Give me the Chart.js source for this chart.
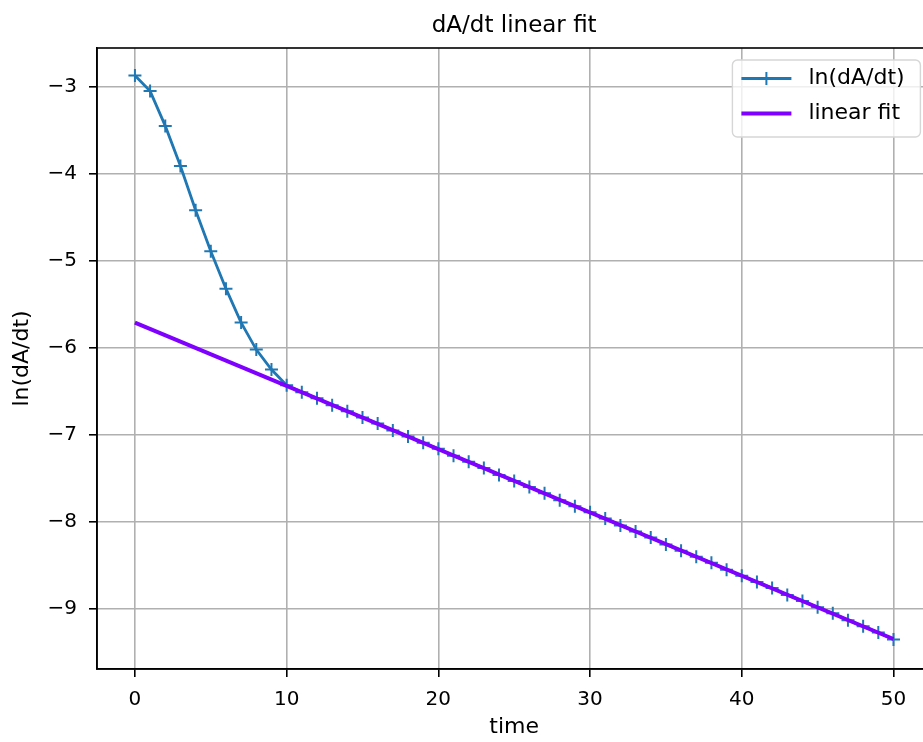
<!DOCTYPE html>
<html><head><meta charset="utf-8">
<script src="https://cdn.jsdelivr.net/npm/chart.js@4/dist/chart.umd.min.js"></script>
<style>html,body{margin:0;padding:0;background:#fff;overflow:hidden;} #wrap{width:960px;height:742px;}</style>
</head><body><div id="wrap"><canvas id="c" width="960" height="742"></canvas></div>
<script>
const timeValues = [0,1,2,3,4,5,6,7,8,9,10,11,12,13,14,15,16,17,18,19,20,21,22,23,24,25,26,27,28,29,30,31,32,33,34,35,36,37,38,39,40,41,42,43,44,45,46,47,48,49,50];
const lnValues = [-2.87,-3.05,-3.45,-3.91,-4.42,-4.89,-5.32,-5.71,-6.02,-6.25,-6.43,
  -6.51,-6.58,-6.66,-6.73,-6.80,-6.87,-6.95,-7.02,-7.09,-7.16,
  -7.24,-7.31,-7.38,-7.46,-7.53,-7.60,-7.67,-7.75,-7.82,-7.89,
  -7.96,-8.04,-8.11,-8.18,-8.26,-8.33,-8.40,-8.47,-8.55,-8.62,
  -8.69,-8.76,-8.84,-8.91,-8.98,-9.05,-9.13,-9.20,-9.27,-9.35];
const fitX = [0, 50];
const fitY = [-5.71, -9.345];
const xTicks = [0, 10, 20, 30, 40, 50];
const yTicks = [-3, -4, -5, -6, -7, -8, -9];
const titleText = 'dA/dt linear fit';
const xLabel = 'time';
const yLabel = 'ln(dA/dt)';
const seriesLabels = ['ln(dA/dt)', 'linear fit'];
const colors = ['#1f77b4', '#7f00ff'];

const FONT = 'DejaVu Sans';
Chart.defaults.color = '#000';
Chart.defaults.font.family = FONT;

const frame = {
  id: 'frame',
  afterDatasetsDraw(chart) {
    const {ctx, chartArea: a} = chart;
    ctx.save();
    ctx.strokeStyle = '#000';
    ctx.lineWidth = 1.6;
    ctx.strokeRect(a.left, a.top, a.right - a.left, a.bottom - a.top);
    ctx.restore();
  }
};

const mplLegend = {
  id: 'mplLegend',
  afterDraw(chart) {
    const {ctx, chartArea: a} = chart;
    const w = 188, h = 77;
    const x0 = a.right - 11 - w, y0 = a.top + 12;
    ctx.save();
    ctx.beginPath();
    ctx.roundRect(x0, y0, w, h, 5);
    ctx.fillStyle = 'rgba(255,255,255,0.8)';
    ctx.fill();
    ctx.strokeStyle = '#d6d6d6';
    ctx.lineWidth = 1.4;
    ctx.stroke();
    const rows = [y0 + 18.5, y0 + 53.5];
    chart.data.datasets.forEach((ds, i) => {
      const y = rows[i];
      ctx.beginPath();
      ctx.moveTo(x0 + 9, y);
      ctx.lineTo(x0 + 59, y);
      ctx.strokeStyle = ds.borderColor;
      ctx.lineWidth = ds.borderWidth;
      ctx.stroke();
      if (ds.pointRadius > 0) {
        const cx = x0 + 34, r = ds.pointRadius;
        ctx.beginPath();
        ctx.moveTo(cx - r, y); ctx.lineTo(cx + r, y);
        ctx.moveTo(cx, y - r); ctx.lineTo(cx, y + r);
        ctx.lineWidth = ds.pointBorderWidth;
        ctx.stroke();
      }
      ctx.fillStyle = '#000';
      ctx.font = '22px "' + FONT + '"';
      ctx.textBaseline = 'middle';
      ctx.textAlign = 'left';
      ctx.fillText(ds.label, x0 + 76, y);
    });
    ctx.restore();
  }
};

const fmt = v => String(v).replace('-', '\u2212');

new Chart(document.getElementById('c'), {
  type: 'line',
  data: {
    datasets: [
      {
        label: seriesLabels[0],
        data: timeValues.map((t, i) => ({x: t, y: lnValues[i]})),
        borderColor: colors[0],
        backgroundColor: colors[0],
        borderWidth: 2.8,
        pointStyle: 'cross',
        pointRadius: 6.5,
        pointBorderWidth: 2,
        pointBorderColor: colors[0],
        pointHoverRadius: 6.5,
        tension: 0,
        order: 1
      },
      {
        label: seriesLabels[1],
        data: fitX.map((t, i) => ({x: t, y: fitY[i]})),
        borderColor: colors[1],
        backgroundColor: colors[1],
        borderWidth: 4,
        pointRadius: 0,
        pointHoverRadius: 0,
        tension: 0,
        order: 0
      }
    ]
  },
  options: {
    responsive: false,
    animation: false,
    events: [],
    layout: {padding: {left: 0, top: 0, right: 28.6, bottom: 0}},
    plugins: {
      legend: {display: false},
      tooltip: {enabled: false},
      title: {
        display: true, text: titleText, color: '#000', fullSize: false,
        font: {family: FONT, size: 23, weight: 'normal', lineHeight: 1.2},
        padding: {top: 12, bottom: 8.4}
      }
    },
    scales: {
      x: {
        type: 'linear', min: -2.5, max: 52.5,
        afterBuildTicks: s => { s.ticks = xTicks.map(v => ({value: v})); },
        afterFit: s => { s.height = 73; },
        ticks: {font: {family: FONT, size: 20}, color: '#000', padding: 11, maxRotation: 0, autoSkip: false, callback: v => fmt(v)},
        grid: {color: '#b0b0b0', lineWidth: 1.6, tickLength: 8, tickColor: '#000', tickWidth: 1.6},
        border: {color: '#000', width: 1.6},
        title: {display: true, text: xLabel, color: '#000', font: {family: FONT, size: 22, lineHeight: 1.2}, padding: {top: 0, bottom: 2}}
      },
      y: {
        type: 'linear', min: -9.69, max: -2.555,
        afterBuildTicks: s => { s.ticks = yTicks.map(v => ({value: v})); },
        afterFit: s => { s.width = 97; },
        ticks: {font: {family: FONT, size: 20}, color: '#000', padding: 12, autoSkip: false, callback: v => fmt(v)},
        grid: {color: '#b0b0b0', lineWidth: 1.6, tickLength: 8, tickColor: '#000', tickWidth: 1.6},
        border: {color: '#000', width: 1.6},
        title: {display: true, text: yLabel, color: '#000', font: {family: FONT, size: 22, lineHeight: 1.2}, padding: {top: 9, bottom: 0}}
      }
    }
  },
  plugins: [frame, mplLegend]
});
</script>
</body></html>
